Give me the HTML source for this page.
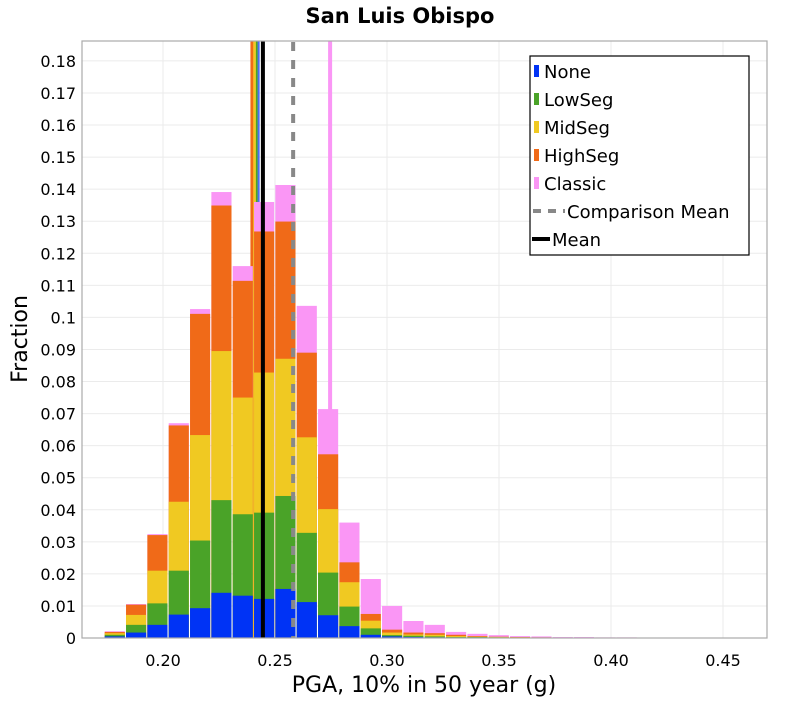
<!DOCTYPE html>
<html><head><meta charset="utf-8"><style>
body{margin:0;background:#fff;}
svg text{font-family:"DejaVu Sans","Liberation Sans",sans-serif;}
</style></head><body>
<svg id="chart" width="800" height="700" xmlns="http://www.w3.org/2000/svg">
<text x="400" y="23" text-anchor="middle" font-size="21" font-weight="bold">San Luis Obispo</text>
<text x="424" y="692" text-anchor="middle" font-size="22">PGA, 10% in 50 year (g)</text>
<text transform="translate(27,339) rotate(-90)" text-anchor="middle" font-size="22">Fraction</text>
<g id="grid"></g><g id="lines"></g><g id="bars"></g><g id="lines2"></g><g id="axes"></g>
<g>
<rect x="530" y="56" width="219" height="199" fill="#fff" stroke="#000" stroke-width="1.2"/>
<rect x="534" y="65" width="5" height="12" fill="#0033f5"/><text x="544" y="78" font-size="18">None</text>
<rect x="534" y="93" width="5" height="12" fill="#4aa328"/><text x="544" y="106" font-size="18">LowSeg</text>
<rect x="534" y="121" width="5" height="12" fill="#f0c922"/><text x="544" y="134" font-size="18">MidSeg</text>
<rect x="534" y="149" width="5" height="12" fill="#f06a18"/><text x="544" y="162" font-size="18">HighSeg</text>
<rect x="534" y="177" width="5" height="12" fill="#fa96f5"/><text x="544" y="190" font-size="18">Classic</text>
<line x1="533" y1="211" x2="565" y2="211" stroke="#888" stroke-width="4" stroke-dasharray="8,7"/><text x="567" y="218" font-size="18">Comparison Mean</text>
<line x1="532" y1="239" x2="550" y2="239" stroke="#000" stroke-width="4"/><text x="552" y="246" font-size="18">Mean</text>
</g>
</svg>
<script>
const binStart = 0.17375, binWidth = 0.009524;
const none    = [0.0005,0.0017,0.0041,0.0073,0.0093,0.0141,0.0132,0.0122,0.0153,0.0112,0.0071,0.0037,0.0010,0.0005,0.0003,0.0002,0.0001,0.0001,0,0,0,0,0,0,0,0,0,0,0,0];
const lowSeg  = [0.0010,0.0041,0.0108,0.0210,0.0304,0.0430,0.0386,0.0391,0.0443,0.0328,0.0204,0.0098,0.0030,0.0009,0.0007,0.0005,0.0003,0.0003,0.0002,0.0001,0.0001,0,0,0,0,0,0,0,0,0];
const midSeg  = [0.0015,0.0072,0.0210,0.0425,0.0633,0.0895,0.0750,0.0828,0.0871,0.0626,0.0402,0.0174,0.0054,0.0017,0.0011,0.0010,0.0006,0.0004,0.0003,0.0002,0.0001,0.0001,0,0,0,0,0,0,0,0];
const highSeg = [0.0019,0.0104,0.0321,0.0663,0.1011,0.1349,0.1114,0.1268,0.1299,0.0890,0.0573,0.0236,0.0075,0.0026,0.0017,0.0015,0.0010,0.0006,0.0004,0.0003,0.0002,0.0001,0.0001,0,0,0,0,0,0,0];
const classic = [0.0021,0.0106,0.0324,0.0670,0.1026,0.1391,0.1160,0.1360,0.1413,0.1036,0.0714,0.0360,0.0184,0.0100,0.0053,0.0041,0.0019,0.0013,0.0009,0.0006,0.0005,0.0003,0.0003,0.0002,0.0002,0.0001,0.0001,0.0001,0.0001,0.0001];
const yTicks = [0,0.01,0.02,0.03,0.04,0.05,0.06,0.07,0.08,0.09,0.1,0.11,0.12,0.13,0.14,0.15,0.16,0.17,0.18];
const yTickLabels = ["0","0.01","0.02","0.03","0.04","0.05","0.06","0.07","0.08","0.09","0.1","0.11","0.12","0.13","0.14","0.15","0.16","0.17","0.18"];
const xTicks = [0.20,0.25,0.30,0.35,0.40,0.45];
const xTickLabels = ["0.20","0.25","0.30","0.35","0.40","0.45"];
const seriesMeans = [0.2397,0.2409,0.2419,0.2427];
const meanValue = 0.2446, comparisonMean = 0.2581, classicMean = 0.2746;

const L=82,R=767,T=41,B=638;
const X=v=>163+(v-0.20)*2240;
const Y=v=>638-v*3206;
const NS="http://www.w3.org/2000/svg";
function mk(parent,tag,attrs){const e=document.createElementNS(NS,tag);for(const k in attrs)e.setAttribute(k,attrs[k]);document.getElementById(parent).appendChild(e);return e;}

yTicks.forEach((v,i)=>{
  const g=mk('grid','line',{x1:L,x2:R,y1:Y(v),y2:Y(v),stroke:'#ebebeb','stroke-width':1});
  
  
  const t=mk('axes','text',{x:76,y:Y(v)+6,'text-anchor':'end','font-size':16});
  
  
  t.textContent=yTickLabels[i];
});
xTicks.forEach((v,i)=>{
  const g=mk('grid','line',{x1:X(v),x2:X(v),y1:T,y2:B,stroke:'#ebebeb','stroke-width':1});
  
  
  const t=mk('axes','text',{x:X(v),y:666,'text-anchor':'middle','font-size':16});
  
  
  t.textContent=xTickLabels[i];
});
const frame=mk('axes','rect',{x:L,y:T,width:R-L,height:B-T,fill:'none',stroke:'#aaa','stroke-width':1.2});



const meanColors=['#f06a18','#f0c922','#4aa328','#4a6cf0'];
const meanWidths=[3,2.6,2,2];
seriesMeans.forEach((m,i)=>{
  const l=mk('lines','line',{x1:X(m),x2:X(m),y1:T,y2:B,stroke:meanColors[i],'stroke-width':meanWidths[i]});
  
  
});
const cl=mk('lines','line',{x1:X(classicMean),x2:X(classicMean),y1:T,y2:B,stroke:'#fa96f5','stroke-width':4});



const series=[classic,highSeg,midSeg,lowSeg,none];
const colors=['#fa96f5','#f06a18','#f0c922','#4aa328','#0033f5'];
const names=['classic','highseg','midseg','lowseg','none'];
classic.forEach((_,i)=>{
  const x0=X(binStart+i*binWidth), x1=X(binStart+(i+1)*binWidth);
  series.forEach((s,k)=>{
    if(s[i]<=0) return;
    const r=mk('bars','rect',{x:x0+0.5,y:Y(s[i]),width:x1-x0-1.2,height:B-Y(s[i]),fill:colors[k]});
    
    
  });
});
const ml=mk('lines2','line',{x1:X(meanValue),x2:X(meanValue),y1:T,y2:B,stroke:'#000','stroke-width':4});


const cm=mk('lines2','line',{x1:X(comparisonMean),x2:X(comparisonMean),y1:T+1,y2:B,stroke:'#888','stroke-width':4,'stroke-dasharray':'9,9'});


</script>
</body></html>
